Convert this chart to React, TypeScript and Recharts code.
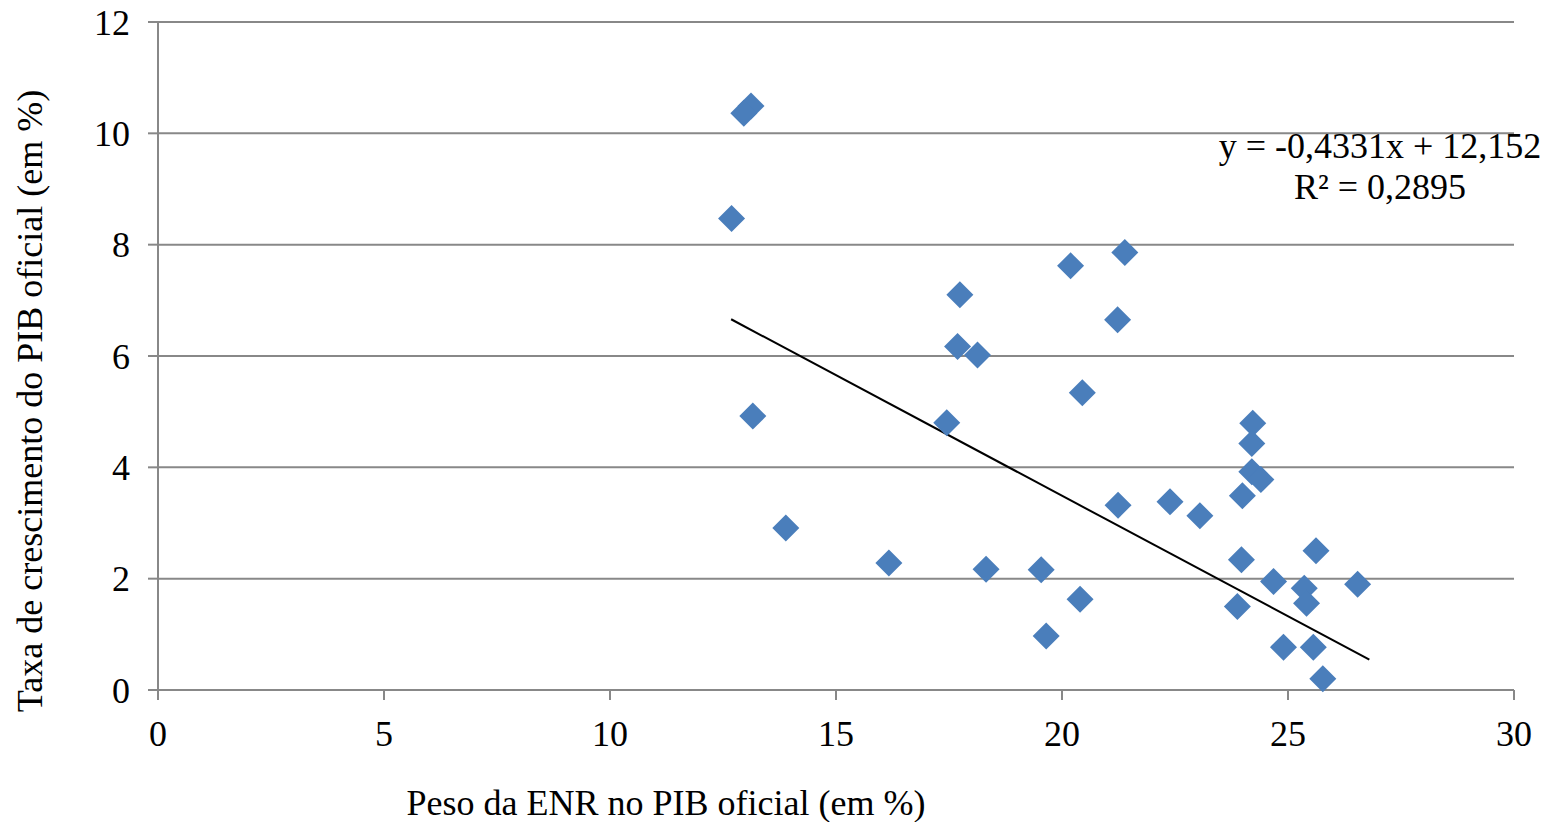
import React from 'react';
import {
  ScatterChart,
  Scatter,
  XAxis,
  YAxis,
  CartesianGrid,
  ReferenceLine
} from 'recharts';

// Peso da ENR no PIB oficial (em %)
const pesoENR = [
  13.12, 12.96, 12.69, 13.16, 13.89, 16.17, 17.45, 17.74, 17.69, 18.13,
  18.32, 19.54, 19.65, 20.19, 20.45, 20.4, 21.39, 21.23, 21.24, 22.39,
  23.05, 23.88, 23.97, 23.99, 24.22, 24.2, 24.2, 24.4, 24.68, 24.9,
  25.36, 25.41, 25.62, 25.56, 25.77, 26.54
];

// Taxa de crescimento do PIB oficial (em %)
const taxaPIB = [
  10.49, 10.36, 8.47, 4.92, 2.91, 2.28, 4.8, 7.1, 6.17, 6.02,
  2.17, 2.16, 0.97, 7.62, 5.34, 1.63, 7.86, 6.65, 3.32, 3.38,
  3.13, 1.5, 2.34, 3.49, 4.79, 4.43, 3.92, 3.78, 1.95, 0.77,
  1.83, 1.56, 2.5, 0.77, 0.2, 1.9
];

const xTicks = [0, 5, 10, 15, 20, 25, 30];
const yTicks = [0, 2, 4, 6, 8, 10, 12];

// linear trendline as printed on the chart
const slope = -0.4331;
const intercept = 12.152;
const trendRange = [12.68, 26.8];

const points = pesoENR.map((x, i) => ({ x, y: taxaPIB[i] }));
const trendSegment = trendRange.map(x => ({ x, y: slope * x + intercept }));

const FONT = '"Liberation Serif", "Times New Roman", serif';
const GRID = '#888888';
const FS = 36;

const Diamond = (props: any) => {
  const { cx, cy } = props;
  const r = 13.5;
  return (
    <polygon
      points={`${cx},${cy - r} ${cx + r},${cy} ${cx},${cy + r} ${cx - r},${cy}`}
      fill="#4A7EBB"
    />
  );
};

export default function App() {
  return (
    <div
      style={{
        position: 'absolute',
        left: 0,
        top: 0,
        width: 1553,
        height: 822,
        background: '#fff',
        fontFamily: FONT
      }}
    >
      <ScatterChart
        width={1553}
        height={822}
        margin={{ top: 22, right: 39, left: 0, bottom: 72 }}
      >
        <CartesianGrid
          vertical={false}
          stroke={GRID}
          strokeWidth={2}
          horizontalValues={yTicks}
        />
        <XAxis
          type="number"
          dataKey="x"
          domain={[0, 30]}
          ticks={xTicks}
          height={60}
          tickSize={10}
          tickMargin={20}
          axisLine={{ stroke: GRID, strokeWidth: 2 }}
          tickLine={{ stroke: GRID, strokeWidth: 2 }}
          tick={{ fill: '#000', fontSize: FS, fontFamily: FONT }}
          label={{
            content: () => (
              <text
                x={666}
                y={815}
                textAnchor="middle"
                fill="#000"
                fontSize={FS}
                fontFamily={FONT}
              >
                Peso da ENR no PIB oficial (em %)
              </text>
            )
          }}
        />
        <YAxis
          type="number"
          dataKey="y"
          domain={[0, 12]}
          ticks={yTicks}
          width={158}
          tickSize={10}
          tickMargin={18}
          axisLine={{ stroke: GRID, strokeWidth: 2 }}
          tickLine={{ stroke: GRID, strokeWidth: 2 }}
          tick={{ fill: '#000', fontSize: FS, fontFamily: FONT }}
          label={{
            content: () => (
              <text
                x={42}
                y={401}
                textAnchor="middle"
                fill="#000"
                fontSize={FS}
                fontFamily={FONT}
                transform="rotate(-90 42 401)"
              >
                Taxa de crescimento do PIB oficial (em %)
              </text>
            )
          }}
        />
        <ReferenceLine
          segment={trendSegment}
          stroke="#000"
          strokeWidth={2}
          ifOverflow="visible"
        />
        <Scatter
          data={points}
          shape={<Diamond />}
          isAnimationActive={false}
        />
        <text x={1380} y={158} textAnchor="middle" fill="#000" fontSize={FS} fontFamily={FONT}>
          y = -0,4331x + 12,152
        </text>
        <text x={1380} y={199} textAnchor="middle" fill="#000" fontSize={FS} fontFamily={FONT}>
          R² = 0,2895
        </text>
      </ScatterChart>
    </div>
  );
}
